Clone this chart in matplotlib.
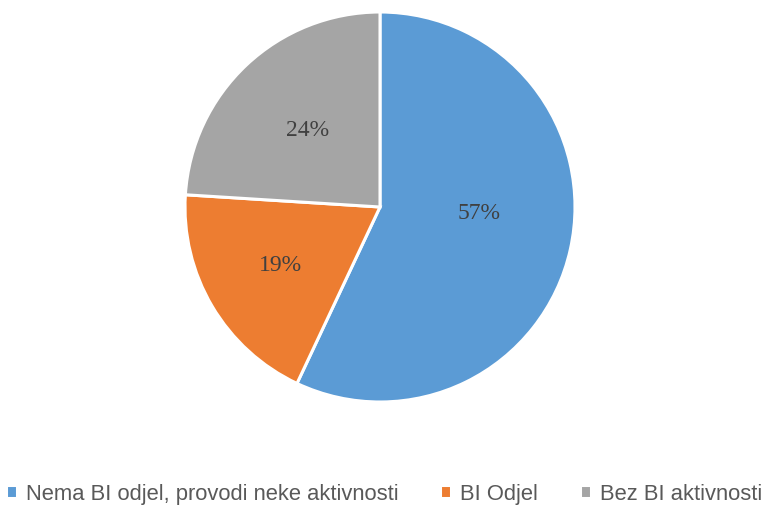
import matplotlib
matplotlib.use("Agg")
import matplotlib.pyplot as plt

labels = ["Nema BI odjel, provodi neke aktivnosti", "BI Odjel", "Bez BI aktivnosti"]
shares = [57, 19, 24]
colors = ["#5B9BD5", "#ED7D31", "#A5A5A5"]
# radial distance of each percentage label (fraction of radius)
label_dist = [0.52, 0.59, 0.54]

fig = plt.figure(figsize=(7.68, 5.09), dpi=100)
# pie centre ~ (380, 207) px, radius ~195 px
ax = fig.add_axes([185 / 768, (302 - 195) / 509, 390 / 768, 390 / 509])

wedges, texts, autotexts = ax.pie(
    shares, colors=colors, startangle=90, counterclock=False,
    autopct="%d%%", pctdistance=0.55,
    wedgeprops=dict(edgecolor="white", linewidth=2.2),
    textprops=dict(family="Liberation Serif", fontsize=17, color="#404040"),
)
for t, d in zip(autotexts, label_dist):
    x, y = t.get_position()
    t.set_position((x * d / 0.55, y * d / 0.55))
# Excel pulls the big slice label up a bit
x, y = autotexts[0].get_position()
autotexts[0].set_position((x, y + 0.08))

ax.set_xlim(-1.0, 1.0)
ax.set_ylim(-1.0, 1.0)
ax.set_aspect("equal")

leg = fig.legend(
    wedges, labels, loc="lower center", bbox_to_anchor=(0.5, -0.03), ncol=3,
    frameon=False, handlelength=0.5, handleheight=0.5, handletextpad=0.42,
    columnspacing=1.9, prop=dict(family="Liberation Sans", size=15.8),
    labelcolor="#595959",
)

fig.savefig("out.png", dpi=100, facecolor="white")
